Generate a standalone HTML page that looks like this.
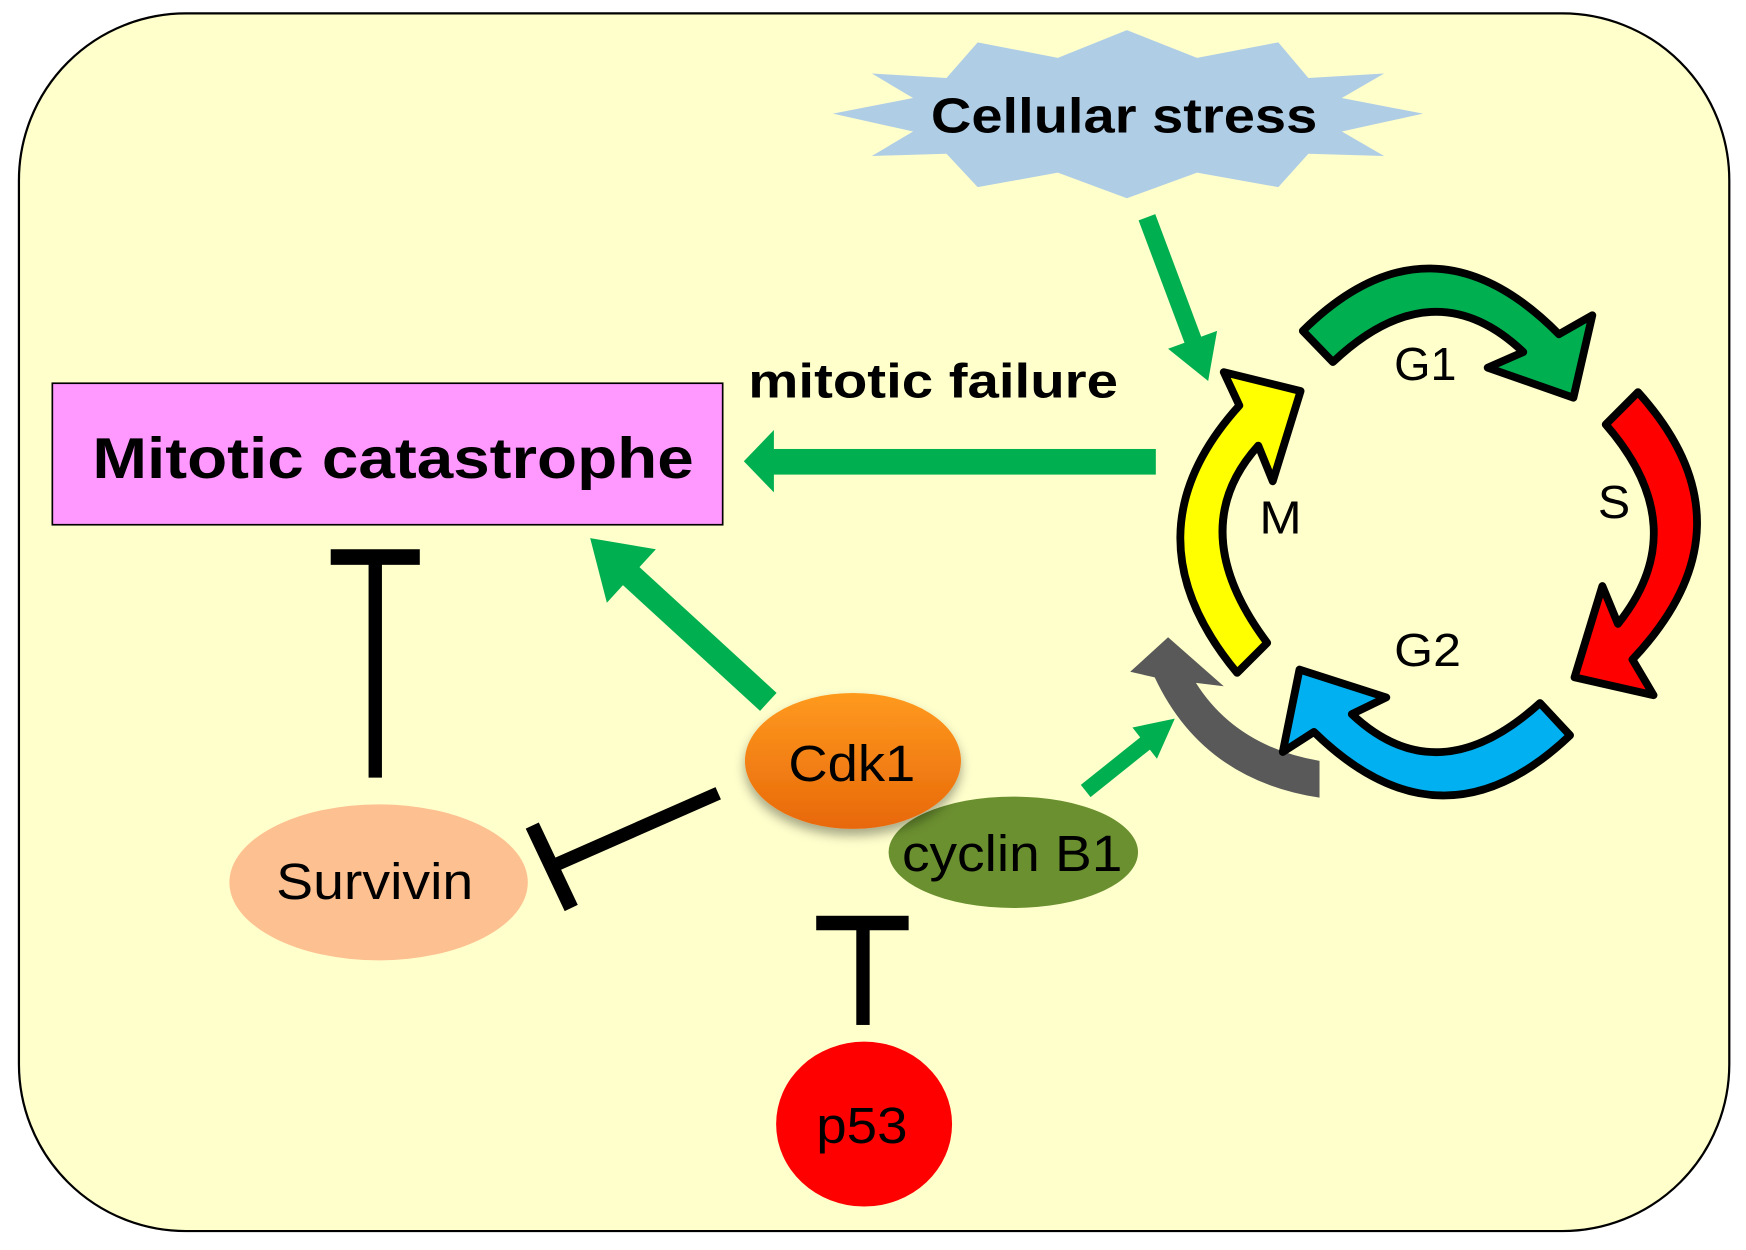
<!DOCTYPE html>
<html><head><meta charset="utf-8"><style>html,body{margin:0;padding:0;background:#fff}svg{display:block}</style></head>
<body>
<svg width="1746" height="1250" viewBox="0 0 1568 1122" preserveAspectRatio="none" xmlns="http://www.w3.org/2000/svg" font-family="Liberation Sans, Arial, sans-serif">
<defs>
<linearGradient id="og" x1="0" y1="0" x2="0" y2="1"><stop offset="0" stop-color="#ff9a1f"/><stop offset="1" stop-color="#e8680a"/></linearGradient>
<filter id="sh" x="-20%" y="-20%" width="140%" height="150%"><feDropShadow dx="0" dy="6" stdDeviation="5" flood-opacity="0.35"/></filter>
</defs>
<rect x="17" y="12" width="1536" height="1093" rx="150" ry="150" fill="#ffffcc" stroke="#000" stroke-width="2"/>
<polygon fill="#b0cde6" points="1012,27 1075,52 1148,38 1175,70 1243,66 1205,88 1278,102 1205,118 1243,140 1175,138 1148,168 1075,155 1012,178 950,155 878,168 850,138 783,140 820,118 748,102 820,88 783,66 850,70 878,38 950,52"/>
<text x="836" y="119" font-size="44" font-weight="bold" textLength="347" lengthAdjust="spacingAndGlyphs">Cellular stress</text>
<line x1="1030" y1="195" x2="1072" y2="307" stroke="#00b050" stroke-width="16"/>
<polygon fill="#00b050" points="1085,342 1093,297 1049,313"/>
<rect x="47" y="344" width="602" height="127" fill="#ff99ff" stroke="#000" stroke-width="1.5"/>
<text x="83" y="429" font-size="52" font-weight="bold" textLength="540" lengthAdjust="spacingAndGlyphs">Mitotic catastrophe</text>
<text x="672" y="357" font-size="43" font-weight="bold" textLength="332" lengthAdjust="spacingAndGlyphs">mitotic failure</text>
<rect x="690" y="403" width="348" height="23" fill="#00b050"/>
<polygon fill="#00b050" points="668,414 695,386 695,442"/>
<line x1="690" y1="630" x2="558" y2="509" stroke="#00b050" stroke-width="22"/>
<polygon fill="#00b050" points="530,483 589,493 545,541"/>
<line x1="975" y1="710" x2="1030" y2="666" stroke="#00b050" stroke-width="14"/>
<polygon fill="#00b050" points="1055,645 1039,681 1017,653"/>
<path d="M1037,608 Q1080,700 1185,716 L1185,683 Q1110,670 1074,613 L1099,616 L1049,572 L1015,603 Z" fill="#595959"/>
<g stroke="#000" stroke-width="7" stroke-linejoin="round">
<path d="M1170,297 Q1285,183.5 1400,300 L1430,283 L1413,357 L1336,330 L1368,316 Q1287.5,239.5 1197,325 Z" fill="#00b050"/>
<path d="M1471,352 Q1579.5,472 1466,592 L1485,624 L1414,608 L1439,526 L1453,560 Q1522.5,473.5 1442,381 Z" fill="#ff0000"/>
<path d="M1410,660 Q1295,769.5 1180,657 L1152,675 L1167,601 L1245,626 L1214,641 Q1291.5,714 1383,631 Z" fill="#00b0f0"/>
<path d="M1111,604 Q1008,480 1113,364 L1099,334 L1168,351 L1143,432 L1130,400 Q1062,475.5 1138,577 Z" fill="#ffff00"/>
</g>
<text x="1252" y="341" font-size="42" textLength="56" lengthAdjust="spacingAndGlyphs">G1</text>
<text x="1435" y="465" font-size="42" textLength="29" lengthAdjust="spacingAndGlyphs">S</text>
<text x="1252" y="598" font-size="42" textLength="60" lengthAdjust="spacingAndGlyphs">G2</text>
<text x="1131" y="479" font-size="42" textLength="38" lengthAdjust="spacingAndGlyphs">M</text>
<rect x="331" y="500" width="12" height="198" fill="#000"/>
<rect x="297" y="493" width="80" height="14" fill="#000"/>
<line x1="645" y1="712" x2="495" y2="778" stroke="#000" stroke-width="12"/>
<line x1="478" y1="741" x2="513" y2="815" stroke="#000" stroke-width="13"/>
<rect x="769" y="828" width="12" height="92" fill="#000"/>
<rect x="733" y="822" width="83" height="13" fill="#000"/>
<ellipse cx="340" cy="792" rx="134" ry="70" fill="#fdc090"/>
<text x="248" y="807" font-size="46" textLength="177" lengthAdjust="spacingAndGlyphs">Survivin</text>
<ellipse cx="910" cy="765" rx="112" ry="50" fill="#6b9030"/>
<ellipse cx="766" cy="683" rx="97" ry="61" fill="url(#og)" filter="url(#sh)"/>
<text x="708" y="701" font-size="46" textLength="114" lengthAdjust="spacingAndGlyphs">Cdk1</text>
<text x="810" y="782" font-size="46" textLength="198" lengthAdjust="spacingAndGlyphs">cyclin B1</text>
<ellipse cx="776" cy="1009" rx="79" ry="74" fill="#ff0000"/>
<text x="733" y="1026" font-size="46" textLength="82" lengthAdjust="spacingAndGlyphs">p53</text>
</svg>
</body></html>
